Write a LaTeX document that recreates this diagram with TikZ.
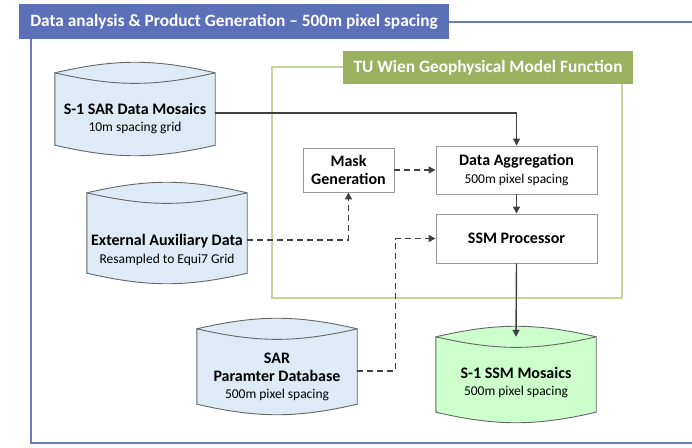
\documentclass[tikz,border=0pt]{standalone}
\usepackage{fontspec}
\setmainfont{Carlito}
\usetikzlibrary{positioning,arrows.meta}

\definecolor{hdrblue}{RGB}{92,112,186}
\definecolor{frameblue}{RGB}{104,122,200}
\definecolor{hdrgreen}{RGB}{155,177,96}
\definecolor{framegreen}{RGB}{198,212,158}
\definecolor{canblue}{RGB}{222,234,245}
\definecolor{cangreen}{RGB}{204,255,204}
\definecolor{linegray}{RGB}{64,64,64}

% database can drawn round an empty node
\newcommand{\canshape}[2]{%
  \draw[canline, fill=#2] (#1.north west) to[bend left=13] (#1.north east)
    -- (#1.south east) to[bend left=13] (#1.south west) -- cycle;
  \draw[canline] (#1.north west) to[bend right=13] (#1.north east);
}

\begin{document}
\begin{tikzpicture}[
  x=1pt, y=-1pt,
  font=\fontsize{13.5}{17.5}\selectfont,
  hdr/.style={rectangle, inner sep=0pt, text=white, font=\bfseries\fontsize{17.3}{19}\selectfont},
  box/.style={rectangle, draw=black!40, line width=0.9pt, fill=white, inner sep=0pt,
              align=center, minimum width=161pt},
  can/.style={rectangle, minimum width=160pt, inner sep=0pt},
  cantext/.style={align=center, inner sep=0pt},
  canline/.style={draw=black!60, line width=0.9pt},
  bigtext/.style={font=\bfseries\fontsize{16}{18}\selectfont},
  arr/.style={-{Triangle[length=7pt,width=7pt]}, draw=linegray, line width=1.4pt},
  dsh/.style={arr, dash pattern=on 6pt off 4pt}
]
\useasboundingbox (0,0) rectangle (692,447);

% outer frame
\node[hdr, fill=hdrblue, minimum width=430pt, minimum height=35pt] (main) at (234,21.5)
  {Data analysis \& Product Generation -- 500m pixel spacing};
\draw[frameblue, line width=2pt] (main.east) -- (692,21.5);
\draw[frameblue, line width=2pt] (31,39) -- (31,443) -- (692,443);

% GMF frame
\draw[framegreen, line width=1.5pt] (272,67) rectangle (622,298);
\node[hdr, fill=hdrgreen, minimum width=290pt, minimum height=33pt] (gmf) at (488,67.5)
  {TU Wien Geophysical Model Function};

% processing boxes
\node[box, bigtext, minimum width=91pt, minimum height=44pt] (mask) at (348.5,170) {Mask\\Generation};
\node[box, minimum height=48pt] (agg) at (516.5,170)
  {{\bfseries\fontsize{16}{17.5}\selectfont Data Aggregation}\\500m pixel spacing};
\node[box, bigtext, minimum height=49pt] (ssmp) at (516.5,238.5) {SSM Processor};

% databases
\node[can, minimum height=72pt] (s1sar) at (135,109) {};
\canshape{s1sar}{canblue}
\node[cantext] (s1sar-t) at (135,118.5)
  {{\bfseries\fontsize{16}{17.5}\selectfont S-1 SAR Data Mosaics}\\10m spacing grid};

\node[can, minimum height=80pt] (ext) at (167,233) {};
\canshape{ext}{canblue}
\node[cantext] (ext-t) at (167,250)
  {{\bfseries\fontsize{16}{17.5}\selectfont External Auxiliary Data}\\Resampled to Equi7 Grid};

\node[can, minimum height=75pt] (sardb) at (277,366.5) {};
\canshape{sardb}{canblue}
\node[cantext] (sardb-t) at (277,377)
  {{\bfseries\fontsize{16}{17.5}\selectfont SAR}\\{\bfseries\fontsize{16}{17.5}\selectfont Paramter Database}\\500m pixel spacing};

\node[can, minimum height=75pt] (s1ssm) at (516,374.5) {};
\canshape{s1ssm}{cangreen}
\node[cantext] (s1ssm-t) at (516,382.5)
  {{\bfseries\fontsize{16}{17.5}\selectfont S-1 SSM Mosaics}\\500m pixel spacing};

% flow
\draw[arr] ([yshift=-4pt]s1sar.east) -| (agg.north);
\draw[arr] (agg) -- (ssmp);
\draw[dsh] (mask) -- (agg);
\draw[dsh] ([yshift=-7pt]ext.east) -| (mask.south);
\draw[dsh] ([yshift=-4.5pt]sardb.east) -- ++(38,0) |- (ssmp.west);
\draw[arr] (ssmp.south) -- (s1ssm.north);
\end{tikzpicture}
\end{document}
